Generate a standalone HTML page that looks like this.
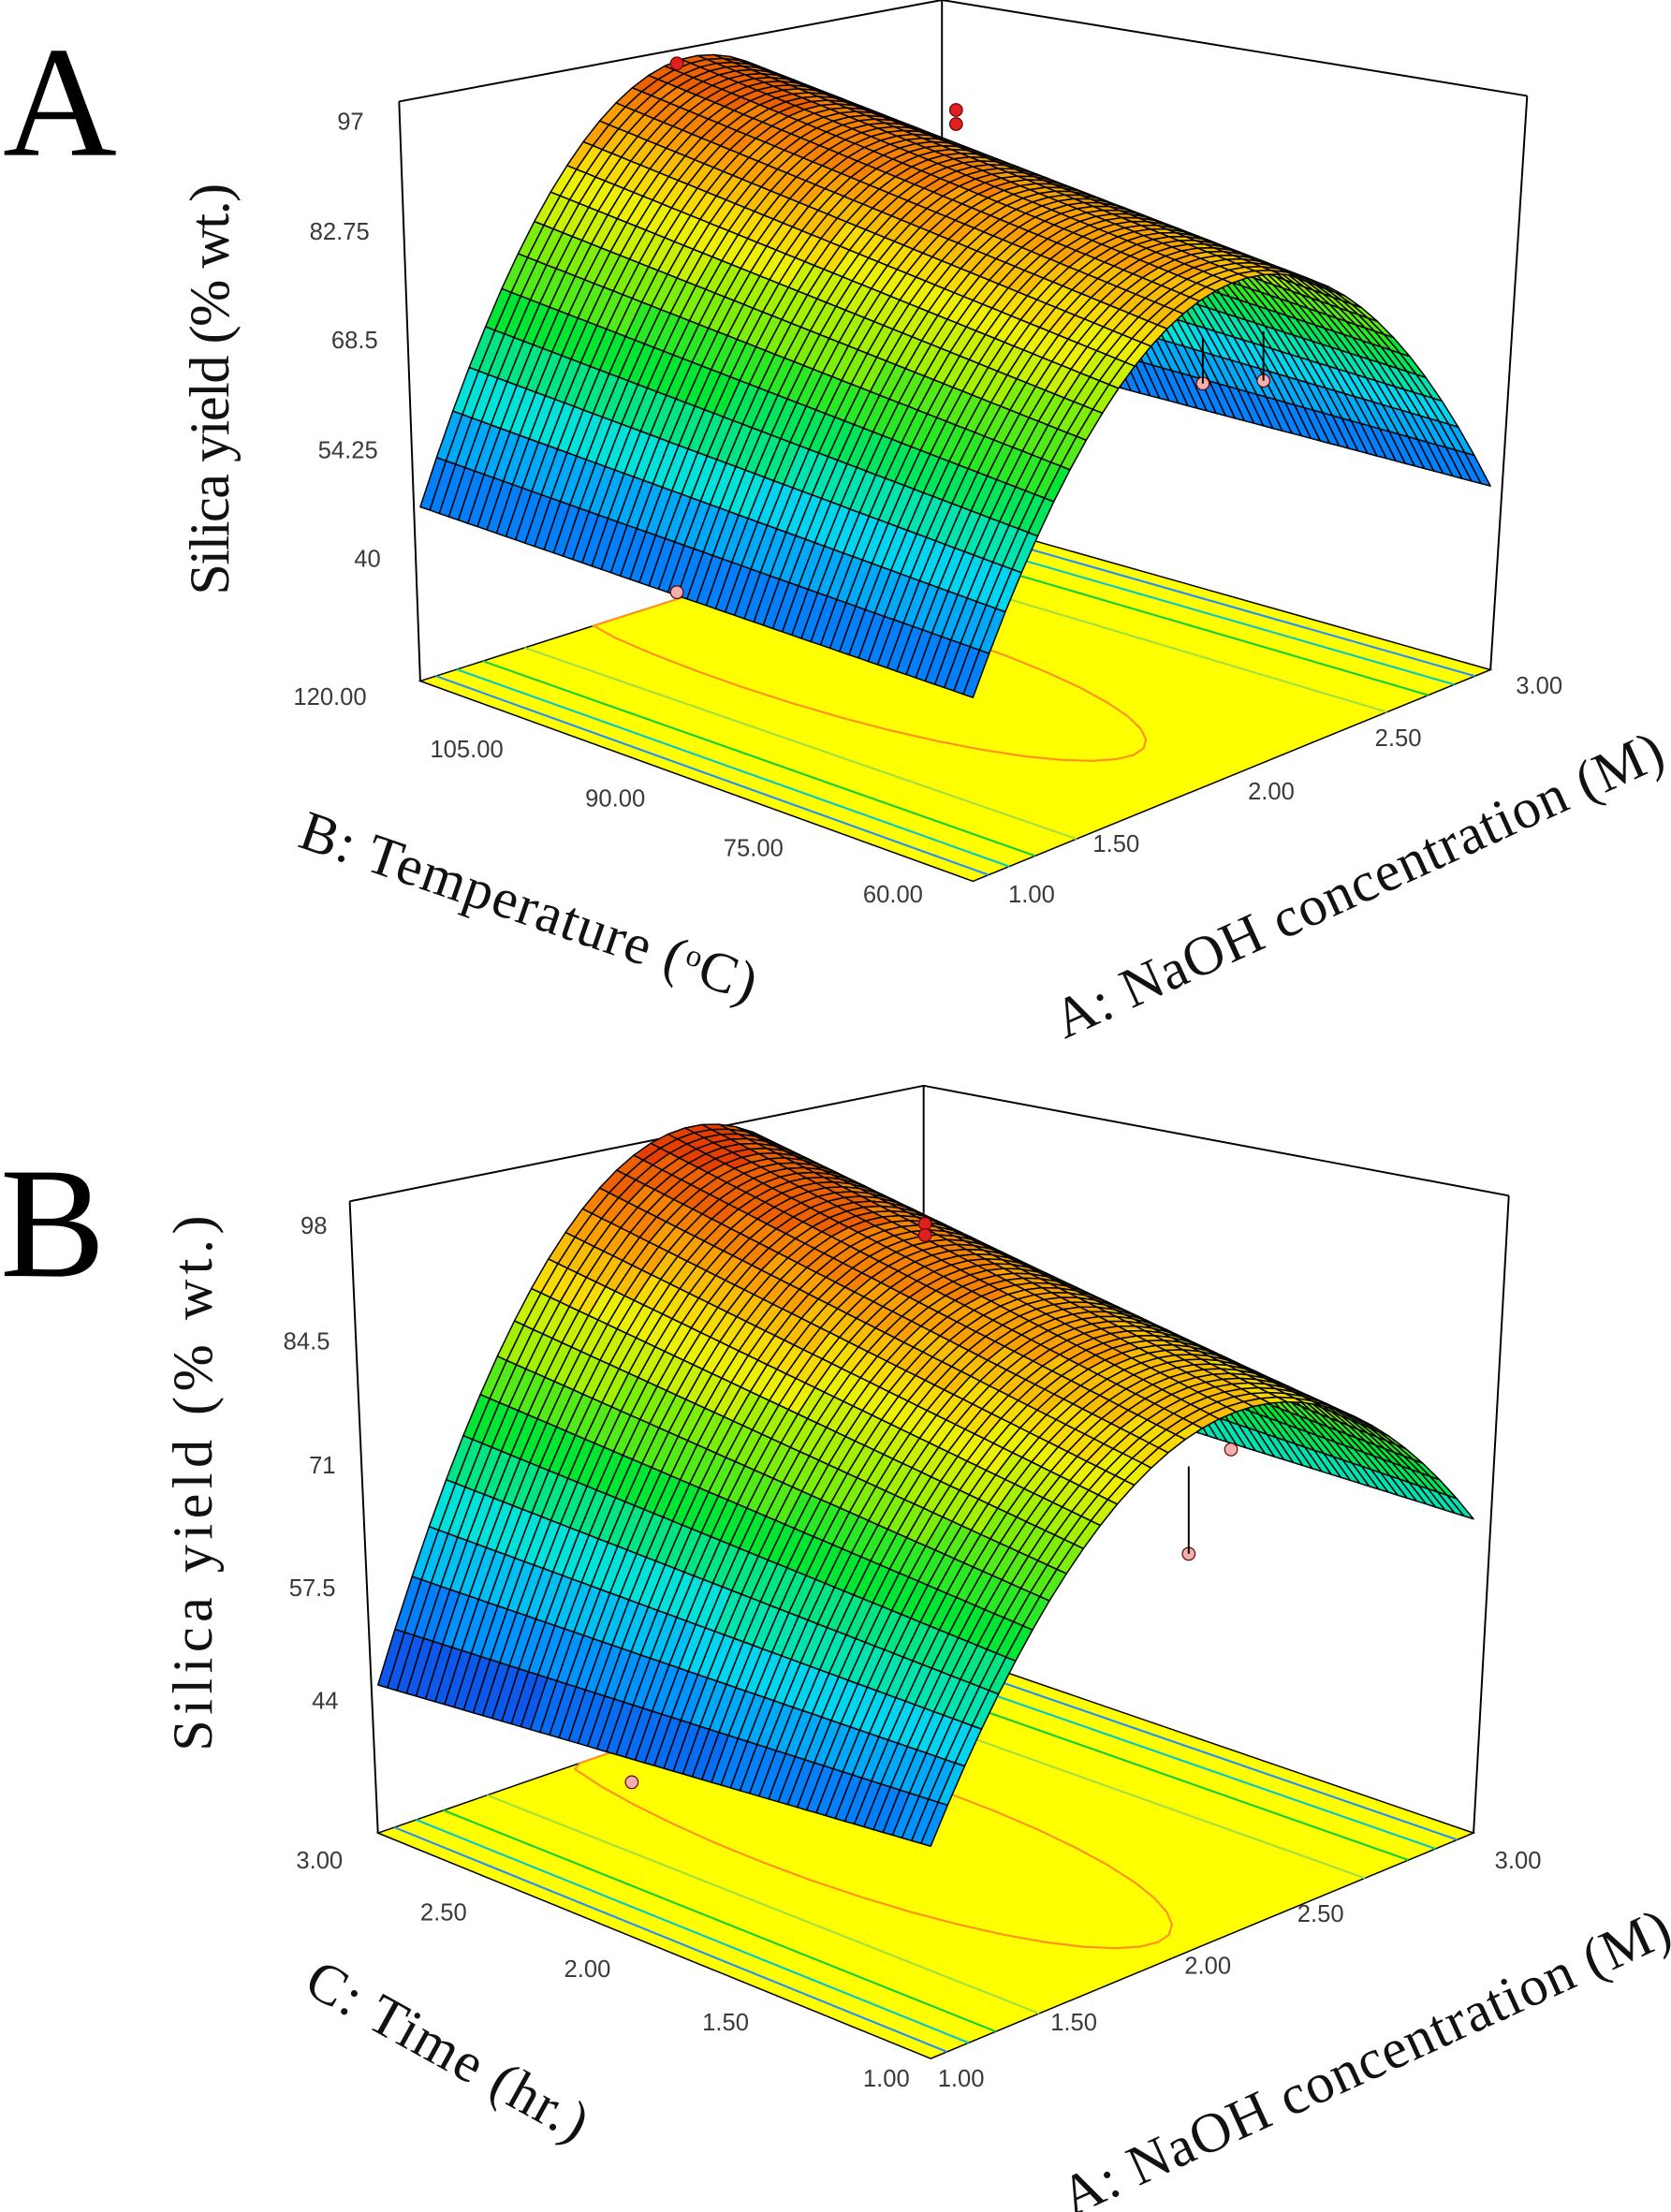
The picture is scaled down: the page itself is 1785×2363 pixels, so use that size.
<!DOCTYPE html>
<html><head><meta charset="utf-8"><style>
html,body{margin:0;padding:0;background:#fff;}
svg{display:block;}
.tk{font-family:"Liberation Sans",sans-serif;font-size:17px;fill:#3a3a3a;}
.tt{font-family:"Liberation Serif",serif;font-size:40px;fill:#111;}
.big{font-family:"Liberation Serif",serif;font-size:112px;fill:#000;}
</style></head><body>
<svg id="s" xmlns="http://www.w3.org/2000/svg" width="1785" height="2363" viewBox="0 0 1185 1568.8">
<rect width="1185" height="1569" fill="#fff"/>
<g id="gA"></g><g id="gB"></g>
<text class="big" x="2" y="110">A</text>
<g class="tk" text-anchor="end">
<text x="258" y="92">97</text><text x="262" y="170">82.75</text><text x="268" y="247">68.5</text><text x="268" y="325">54.25</text><text x="270" y="402">40</text>
</g>
<g class="tk">
<text x="208" y="500">120.00</text><text x="305" y="537">105.00</text><text x="415" y="572">90.00</text><text x="513" y="607">75.00</text><text x="612" y="640">60.00</text>
<text x="715" y="640">1.00</text><text x="775" y="604">1.50</text><text x="885" y="567">2.00</text><text x="975" y="529">2.50</text><text x="1075" y="492">3.00</text>
</g>
<text class="tt" transform="translate(162,422) rotate(-90)" textLength="292" lengthAdjust="spacing">Silica yield (% wt.)</text>
<text class="tt" transform="translate(210,600) rotate(19)" textLength="340" lengthAdjust="spacing">B: Temperature (<tspan dy="-11" font-size="22">o</tspan><tspan dy="11">C)</tspan></text>
<text class="tt" transform="translate(755,737) rotate(-24.5)" textLength="470" lengthAdjust="spacing">A: NaOH concentration (M)</text>
<text class="big" x="0" y="905">B</text>
<g class="tk" text-anchor="end">
<text x="232" y="875">98</text><text x="234" y="957">84.5</text><text x="238" y="1045">71</text><text x="238" y="1132">57.5</text><text x="240" y="1212">44</text>
</g>
<g class="tk">
<text x="210" y="1325">3.00</text><text x="298" y="1362">2.50</text><text x="400" y="1402">2.00</text><text x="498" y="1440">1.50</text><text x="612" y="1480">1.00</text>
<text x="665" y="1480">1.00</text><text x="745" y="1440">1.50</text><text x="840" y="1400">2.00</text><text x="920" y="1363">2.50</text><text x="1060" y="1325">3.00</text>
</g>
<text class="tt" transform="translate(150,1242) rotate(-90)" textLength="380" lengthAdjust="spacing">Silica yield (% wt.)</text>
<text class="tt" transform="translate(214,1412) rotate(29)" textLength="222" lengthAdjust="spacing">C: Time (hr.)</text>
<text class="tt" transform="translate(760,1572) rotate(-24.5)" textLength="470" lengthAdjust="spacing">A: NaOH concentration (M)</text>
</svg>
<script>
var NS="http://www.w3.org/2000/svg";
function el(g,t,a){var e=document.createElementNS(NS,t);for(var k in a)e.setAttribute(k,a[k]);g.appendChild(e);return e;}
var stops=[[0,[20,50,220]],[0.18,[0,140,255]],[0.33,[0,225,235]],[0.5,[0,230,50]],[0.64,[150,240,0]],[0.74,[245,240,0]],[0.86,[250,150,0]],[1,[220,30,0]]];
function cmap(t){t=Math.max(0,Math.min(1,t));for(var i=1;i<stops.length;i++){if(t<=stops[i][0]){var a=stops[i-1],b=stops[i],f=(t-a[0])/(b[0]-a[0]);return "rgb("+[0,1,2].map(function(j){return Math.round(a[1][j]+(b[1][j]-a[1][j])*f)}).join(",")+")";}}return "rgb(220,30,0)";}
function panel(c){
 var g=document.getElementById(c.id);
 function base(an,bn){var F=c.F,R=c.R,L=c.L,K=c.K;
  var x=(1-an)*(1-bn)*F[0]+an*(1-bn)*R[0]+(1-an)*bn*L[0]+an*bn*K[0];
  var y=(1-an)*(1-bn)*F[1]+an*(1-bn)*R[1]+(1-an)*bn*L[1]+an*bn*K[1];return [x,y];}
 function P(an,bn,z){var b=base(an,bn);return [b[0],b[1]-(z-c.z0)*c.k];}
 var T=c.box;
 el(g,"polyline",{points:T.map(function(p){return p.join(",")}).join(" "),fill:"none",stroke:"#000","stroke-width":1.3});
 el(g,"line",{x1:c.T[0],y1:c.T[1],x2:c.K[0],y2:c.K[1],stroke:"#000","stroke-width":1.3});
 el(g,"line",{x1:T[0][0],y1:T[0][1],x2:c.L[0],y2:c.L[1],stroke:"#000","stroke-width":1.3});
 el(g,"line",{x1:T[2][0],y1:T[2][1],x2:c.R[0],y2:c.R[1],stroke:"#000","stroke-width":1.3});
 var pts=[c.F,c.R,c.K,c.L];
 el(g,"polygon",{points:pts.map(function(p){return p.join(",")}).join(" "),fill:"#ffff00",stroke:"#000","stroke-width":1});
 var lines=[[0.03,"#2090ff"],[0.07,"#00c8d0"],[0.12,"#10d040"],[0.2,"#a0e040"],[0.97,"#2090ff"],[0.93,"#00c8d0"],[0.88,"#10d040"],[0.8,"#a0e040"]];
 lines.forEach(function(l){var a=base(l[0],0),b=base(l[0],1);el(g,"line",{x1:a[0],y1:a[1],x2:b[0],y2:b[1],stroke:l[1],"stroke-width":1.4});});
 var d="";for(var i=0;i<=40;i++){var th=Math.PI*i/40*2;var an=0.47+0.17*Math.cos(th),bn=c.ec+0.55*Math.sin(th);if(bn>1)bn=1;var p=base(an,bn);d+=(i?"L":"M")+p[0].toFixed(1)+","+p[1].toFixed(1);}
 el(g,"path",{d:d,fill:"none",stroke:"#ff9020","stroke-width":1.4});
 var na=32,nb=58,q=[];
 for(var i=0;i<na;i++)for(var j=0;j<nb;j++){
  var a0=i/na,a1=(i+1)/na,b0=j/nb,b1=(j+1)/nb;
  var zc=c.z((a0+a1)/2,(b0+b1)/2);
  q.push({d:(a0+a1)/2+(b0+b1)/2,p:[P(a0,b0,c.z(a0,b0)),P(a1,b0,c.z(a1,b0)),P(a1,b1,c.z(a1,b1)),P(a0,b1,c.z(a0,b1))],z:zc});
 }
 q.sort(function(x,y){return y.d-x.d});
 q.forEach(function(o){var zq=Math.floor((o.z-c.zmin)/(c.zmax-c.zmin)*26)/26;
  el(g,"polygon",{points:o.p.map(function(p){return p[0].toFixed(1)+","+p[1].toFixed(1)}).join(" "),fill:cmap(zq),stroke:"#000","stroke-width":1.0,"stroke-linejoin":"round"});});
 c.dots.forEach(function(d){el(g,"circle",{cx:d[0],cy:d[1],r:4.5,fill:d[2],stroke:"#600","stroke-width":0.8});if(d[3])el(g,"line",{x1:d[0],y1:d[1],x2:d[0],y2:d[3],stroke:"#000","stroke-width":1.3});});
}
panel({id:"gA",F:[690,625],R:[1057,475],L:[298,483],K:[668,365],T:[668,0],z0:23.8,k:5.44,zmin:40,zmax:97,ec:0.7,
 box:[[283,72],[668,0],[1083,68]],
 z:function(an,bn){var Pk=88+6*bn,D=161+29*bn;return Pk-D*(an-0.5)*(an-0.5);},
 dots:[[480,45,"#e02020"],[678,78,"#e02020"],[678,88,"#e02020"],[853,272,"#f0b0b0",240],[896,270,"#f0b0b0",235],[480,420,"#f0b0b0"]]});
panel({id:"gB",F:[660,1460],R:[1045,1300],L:[268,1300],K:[655,1166],T:[655,770],z0:28.7,k:6.22,zmin:44,zmax:98,ec:0.6,
 box:[[248,852],[655,770],[1070,848]],
 z:function(an,bn){var Pk=88+9*bn,D=116+54*bn;return Pk-D*(an-0.55)*(an-0.55);},
 dots:[[656,868,"#e02020"],[656,876,"#e02020"],[843,1102,"#f0b0b0",1040],[873,1028,"#f0b0b0"],[448,1264,"#f0b0b0"]]});
</script>
</body></html>
